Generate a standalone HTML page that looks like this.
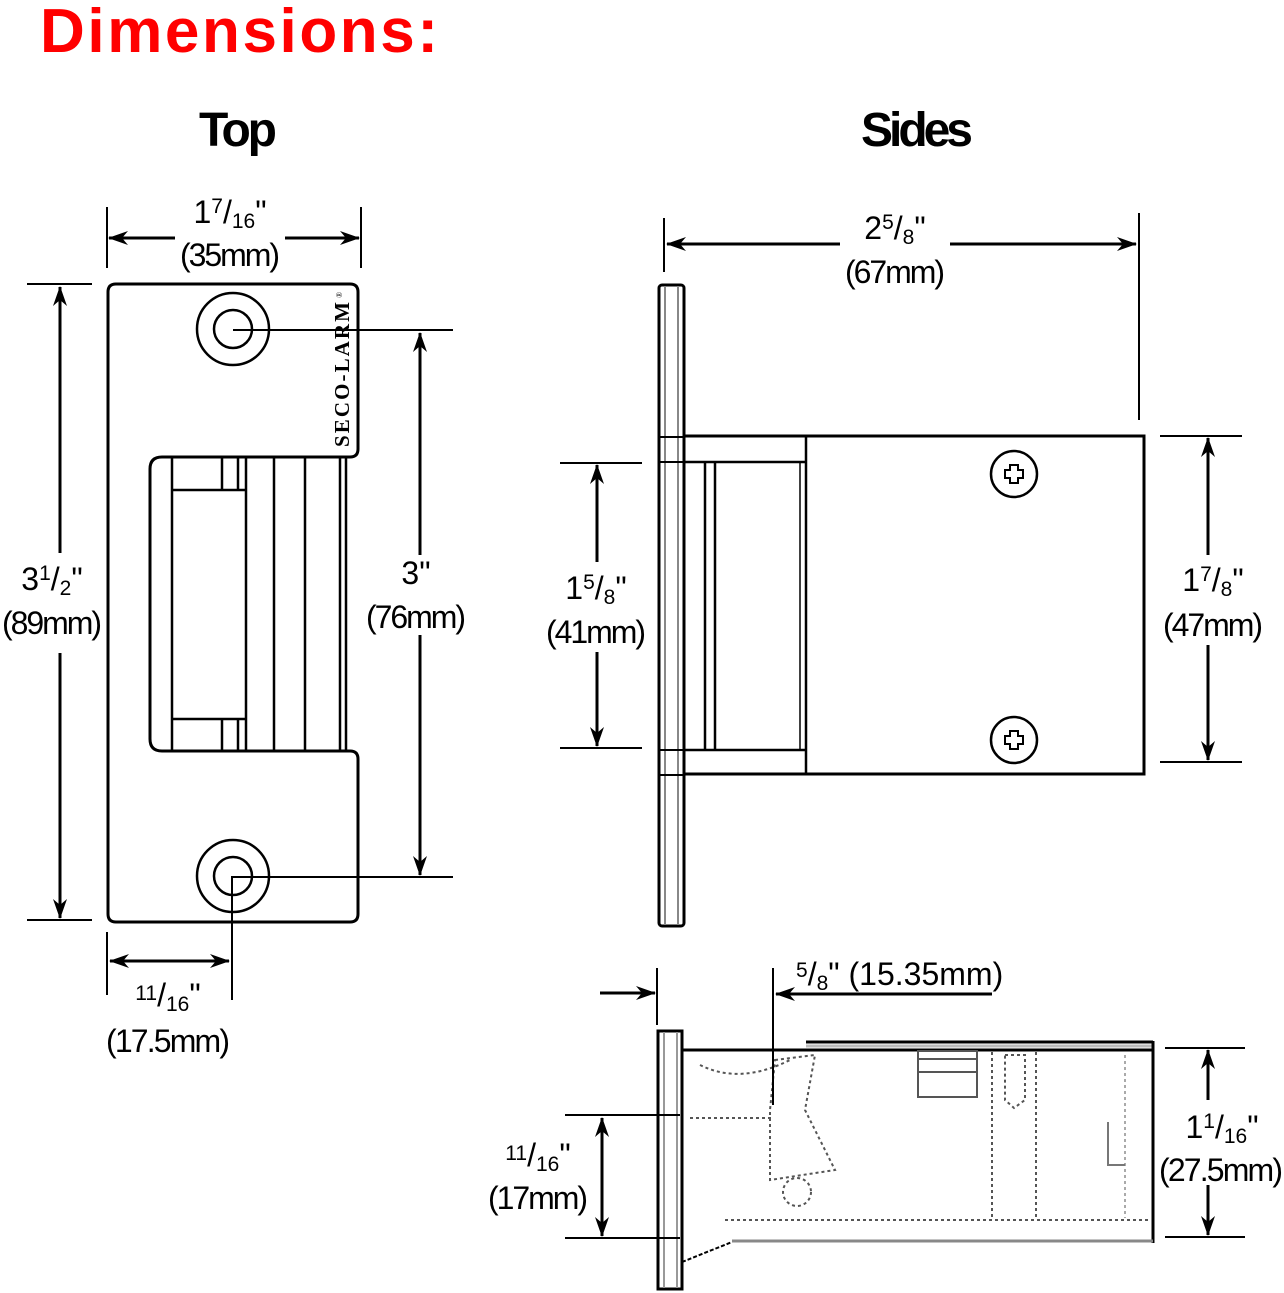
<!DOCTYPE html>
<html><head><meta charset="utf-8"><style>
html,body{margin:0;padding:0;background:#fff;}
svg{display:block;}
text{font-family:"Liberation Sans",sans-serif;}
text.serif{font-family:"Liberation Serif",serif;}
.d{font-size:32px;fill:#000;}
.s{font-size:21px;}
</style></head><body>
<svg width="1284" height="1293" viewBox="0 0 1284 1293" xmlns="http://www.w3.org/2000/svg">
<defs>
<marker id="a" viewBox="0 0 20 14" refX="19" refY="7" markerWidth="20" markerHeight="14" markerUnits="userSpaceOnUse" orient="auto"><path d="M0,0 L20,7 L0,14 L6,7 Z" fill="#000"/></marker>
</defs>
<text x="40" y="52" font-size="62" font-weight="bold" fill="#f00" textLength="398">Dimensions:</text>
<text x="238" y="146" font-size="48" font-weight="bold" text-anchor="middle" textLength="78">Top</text>
<text x="917" y="146" font-size="48" font-weight="bold" text-anchor="middle" textLength="112">Sides</text>

<!-- TOP PLATE -->
<g fill="none" stroke="#000" stroke-width="3">
<path d="M116,284 H350 Q358,284 358,292 V449 Q358,457 350,457 H162 Q150,457 150,469 V739 Q150,751 162,751 H350 Q358,751 358,759 V914 Q358,922 350,922 H116 Q108,922 108,914 V292 Q108,284 116,284 Z"/>
<g stroke-width="2.5">
<line x1="172" y1="458" x2="172" y2="751"/>
<line x1="222" y1="458" x2="222" y2="490"/><line x1="222" y1="719" x2="222" y2="751"/>
<line x1="238" y1="458" x2="238" y2="490"/><line x1="238" y1="719" x2="238" y2="751"/>
<line x1="246" y1="458" x2="246" y2="751"/>
<line x1="172" y1="490" x2="246" y2="490"/><line x1="172" y1="719" x2="246" y2="719"/>
<line x1="274" y1="458" x2="274" y2="751"/>
<line x1="305" y1="458" x2="305" y2="751"/>
<line x1="340" y1="458" x2="340" y2="751"/>
<line x1="346" y1="458" x2="346" y2="751"/>
<circle cx="233" cy="329" r="36"/><circle cx="233" cy="329" r="19"/>
<circle cx="233" cy="876" r="36"/><circle cx="233" cy="876" r="19"/>
</g>
</g>
<text class="serif" transform="translate(349,447) rotate(-90)" font-weight="bold" font-size="21" textLength="145">SECO-LARM</text>
<text class="serif" transform="translate(342,298) rotate(-90)" font-size="8">®</text>

<g stroke="#000" stroke-width="3" fill="none">
<line x1="107" y1="207" x2="107" y2="268" stroke-width="2"/><line x1="361" y1="207" x2="361" y2="268" stroke-width="2"/>
<line x1="175" y1="238" x2="109" y2="238" marker-end="url(#a)"/>
<line x1="285" y1="238" x2="359" y2="238" marker-end="url(#a)"/>
<line x1="27" y1="284" x2="92" y2="284" stroke-width="2"/><line x1="27" y1="920" x2="92" y2="920" stroke-width="2"/>
<line x1="60" y1="553" x2="60" y2="287" marker-end="url(#a)"/>
<line x1="60" y1="653" x2="60" y2="918" marker-end="url(#a)"/>
<line x1="233" y1="330" x2="453" y2="330" stroke-width="2"/><line x1="233" y1="877" x2="453" y2="877" stroke-width="2"/>
<line x1="420" y1="555" x2="420" y2="333" marker-end="url(#a)"/>
<line x1="420" y1="635" x2="420" y2="875" marker-end="url(#a)"/>
<line x1="107" y1="932" x2="107" y2="995" stroke-width="2"/><line x1="232" y1="876" x2="232" y2="1000" stroke-width="2"/>
<line x1="170" y1="961" x2="110" y2="961" marker-end="url(#a)"/>
<line x1="165" y1="961" x2="229" y2="961" marker-end="url(#a)"/>
</g>
<text class="d" x="230" y="223" text-anchor="middle">1<tspan class="s" dy="-10">7</tspan><tspan dy="10">/</tspan><tspan class="s" dy="5">16</tspan><tspan dy="-5">"</tspan></text>
<text class="d" x="230" y="266" text-anchor="middle" textLength="100">(35mm)</text>
<text class="d" x="52" y="590" text-anchor="middle">3<tspan class="s" dy="-10">1</tspan><tspan dy="10">/</tspan><tspan class="s" dy="5">2</tspan><tspan dy="-5">"</tspan></text>
<text class="d" x="52" y="634" text-anchor="middle" textLength="100">(89mm)</text>
<text class="d" x="416" y="584" text-anchor="middle">3"</text>
<text class="d" x="416" y="628" text-anchor="middle" textLength="100">(76mm)</text>
<text class="d" x="168" y="1006" text-anchor="middle" font-size="28"><tspan class="s" dy="-6">11</tspan><tspan dy="6">/</tspan><tspan class="s" dy="5">16</tspan><tspan dy="-5">"</tspan></text>
<text class="d" x="168" y="1052" text-anchor="middle" textLength="124">(17.5mm)</text>

<!-- SIDES VIEW -->
<g fill="none" stroke="#000" stroke-width="3">
<rect x="659" y="285" width="25" height="641" rx="3"/>
<line x1="665" y1="286" x2="665" y2="925" stroke="#888" stroke-width="2"/>
<line x1="678" y1="286" x2="678" y2="925" stroke="#888" stroke-width="2"/>
<line x1="659" y1="437" x2="684" y2="437" stroke-width="2"/><line x1="659" y1="462" x2="684" y2="462" stroke-width="2"/>
<line x1="659" y1="750" x2="684" y2="750" stroke-width="2"/><line x1="659" y1="775" x2="684" y2="775" stroke-width="2"/>
<rect x="684" y="436" width="460" height="338"/>
<line x1="806" y1="436" x2="806" y2="774" stroke-width="2.5"/>
<line x1="684" y1="462" x2="806" y2="462" stroke-width="2.5"/>
<line x1="684" y1="750" x2="806" y2="750" stroke-width="2.5"/>
<line x1="705" y1="462" x2="705" y2="750" stroke-width="2.5"/>
<line x1="715" y1="462" x2="715" y2="750" stroke-width="2.5"/>
<line x1="800" y1="462" x2="800" y2="750" stroke-width="1.5"/>
<circle cx="1014" cy="474" r="23" stroke-width="2.5"/>
<circle cx="1014" cy="740" r="23" stroke-width="2.5"/>
<path d="M1010,465 h8 v5 h5 v8 h-5 v5 h-8 v-5 h-5 v-8 h5 Z M1010,731 h8 v5 h5 v8 h-5 v5 h-8 v-5 h-5 v-8 h5 Z" stroke-width="2"/>
</g>
<g stroke="#000" stroke-width="3" fill="none">
<line x1="664" y1="218" x2="664" y2="272" stroke-width="2"/><line x1="1139" y1="213" x2="1139" y2="420" stroke-width="2"/>
<line x1="840" y1="244" x2="667" y2="244" marker-end="url(#a)"/>
<line x1="950" y1="244" x2="1136" y2="244" marker-end="url(#a)"/>
<line x1="560" y1="463" x2="642" y2="463" stroke-width="2"/><line x1="560" y1="748" x2="642" y2="748" stroke-width="2"/>
<line x1="597" y1="562" x2="597" y2="465" marker-end="url(#a)"/>
<line x1="597" y1="652" x2="597" y2="746" marker-end="url(#a)"/>
<line x1="1160" y1="436" x2="1242" y2="436" stroke-width="2"/><line x1="1160" y1="762" x2="1242" y2="762" stroke-width="2"/>
<line x1="1208" y1="555" x2="1208" y2="438" marker-end="url(#a)"/>
<line x1="1208" y1="645" x2="1208" y2="760" marker-end="url(#a)"/>
</g>
<text class="d" x="895" y="239" text-anchor="middle">2<tspan class="s" dy="-10">5</tspan><tspan dy="10">/</tspan><tspan class="s" dy="5">8</tspan><tspan dy="-5">"</tspan></text>
<text class="d" x="895" y="283" text-anchor="middle" textLength="100">(67mm)</text>
<text class="d" x="596" y="599" text-anchor="middle">1<tspan class="s" dy="-10">5</tspan><tspan dy="10">/</tspan><tspan class="s" dy="5">8</tspan><tspan dy="-5">"</tspan></text>
<text class="d" x="596" y="643" text-anchor="middle" textLength="100">(41mm)</text>
<text class="d" x="1213" y="591" text-anchor="middle">1<tspan class="s" dy="-10">7</tspan><tspan dy="10">/</tspan><tspan class="s" dy="5">8</tspan><tspan dy="-5">"</tspan></text>
<text class="d" x="1213" y="636" text-anchor="middle" textLength="100">(47mm)</text>

<!-- BOTTOM VIEW -->
<g fill="none" stroke="#000">
<rect x="658" y="1031" width="24" height="258" stroke-width="3"/>
<line x1="664" y1="1032" x2="664" y2="1288" stroke="#999" stroke-width="2"/>
<line x1="677" y1="1032" x2="677" y2="1288" stroke="#999" stroke-width="2"/>
<line x1="682" y1="1050" x2="1153" y2="1050" stroke-width="3"/>
<line x1="806" y1="1042" x2="1153" y2="1042" stroke-width="3"/>
<line x1="806" y1="1046" x2="1153" y2="1046" stroke="#bbb" stroke-width="3"/>
<line x1="1153" y1="1041" x2="1153" y2="1243" stroke-width="3"/>
<line x1="732" y1="1241" x2="1153" y2="1241" stroke="#888" stroke-width="3"/>
<path d="M682,1262 L732,1242" stroke-width="2" stroke-dasharray="4,2"/>
<rect x="918" y="1051" width="59" height="46" stroke="#555" stroke-width="2"/>
<line x1="918" y1="1059" x2="977" y2="1059" stroke="#555" stroke-width="2"/>
<line x1="918" y1="1072" x2="977" y2="1072" stroke="#555" stroke-width="2"/>
<g stroke="#555" stroke-width="2" stroke-dasharray="3,3">
<line x1="690" y1="1118" x2="772" y2="1118"/>
<line x1="725" y1="1220" x2="1150" y2="1220"/>
<line x1="992" y1="1052" x2="992" y2="1218"/>
<line x1="1036" y1="1052" x2="1036" y2="1218"/>
<path d="M700,1065 Q740,1085 790,1060"/>
<path d="M775,1060 L815,1055 L805,1110 L835,1170 L770,1180 L770,1110 Z"/>
<circle cx="797" cy="1192" r="14"/>
<path d="M1005,1055 L1025,1055 L1025,1100 L1014,1108 L1005,1100 Z"/>
<line x1="1125" y1="1055" x2="1125" y2="1218" stroke="#aaa"/>
</g>
<path d="M1108,1122 V1165 H1125" stroke="#777" stroke-width="2"/>
</g>
<g stroke="#000" stroke-width="3" fill="none">
<line x1="657" y1="968" x2="657" y2="1025" stroke-width="2"/>
<line x1="773" y1="968" x2="773" y2="1105" stroke-width="2"/>
<line x1="600" y1="993" x2="655" y2="993" marker-end="url(#a)"/>
<line x1="992" y1="994" x2="776" y2="994" marker-end="url(#a)"/>
<line x1="565" y1="1115" x2="680" y2="1115" stroke-width="2"/><line x1="565" y1="1238" x2="680" y2="1238" stroke-width="2"/>
<line x1="602" y1="1180" x2="602" y2="1118" marker-end="url(#a)"/>
<line x1="602" y1="1170" x2="602" y2="1236" marker-end="url(#a)"/>
<line x1="1165" y1="1048" x2="1245" y2="1048" stroke-width="2"/><line x1="1165" y1="1237" x2="1245" y2="1237" stroke-width="2"/>
<line x1="1208" y1="1100" x2="1208" y2="1050" marker-end="url(#a)"/>
<line x1="1208" y1="1185" x2="1208" y2="1235" marker-end="url(#a)"/>
</g>
<text class="d" x="796" y="985"><tspan class="s" dy="-8">5</tspan><tspan dy="8">/</tspan><tspan class="s" dy="5">8</tspan><tspan dy="-5">" (15.35mm)</tspan></text>
<text class="d" x="538" y="1166" text-anchor="middle" font-size="28"><tspan class="s" dy="-6">11</tspan><tspan dy="6">/</tspan><tspan class="s" dy="5">16</tspan><tspan dy="-5">"</tspan></text>
<text class="d" x="538" y="1209" text-anchor="middle" textLength="100">(17mm)</text>
<text class="d" x="1222" y="1138" text-anchor="middle">1<tspan class="s" dy="-10">1</tspan><tspan dy="10">/</tspan><tspan class="s" dy="5">16</tspan><tspan dy="-5">"</tspan></text>
<text class="d" x="1221" y="1181" text-anchor="middle" textLength="124">(27.5mm)</text>
</svg>
</body></html>
